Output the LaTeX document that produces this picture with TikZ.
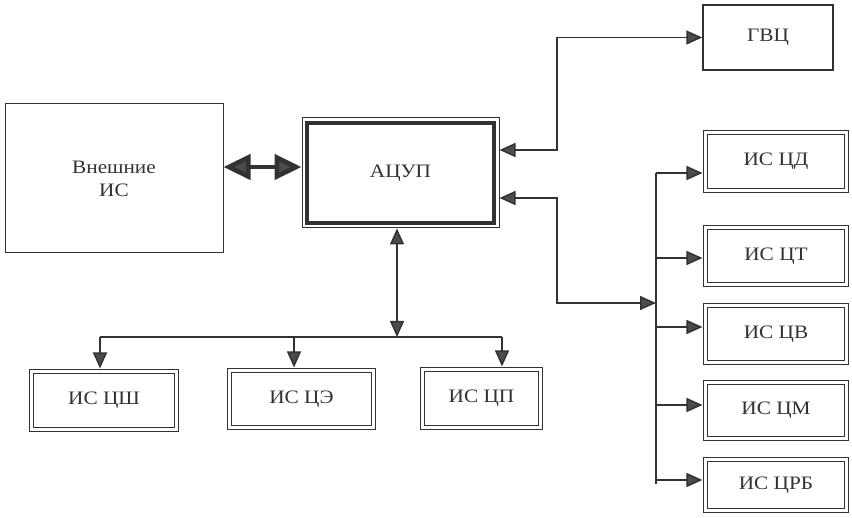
\documentclass[tikz,border=0pt]{standalone}
\usepackage{fontspec}
\setmainfont{Liberation Serif}[FakeStretch=1.12]
\usetikzlibrary{arrows.meta,calc}
\definecolor{ink}{RGB}{50,50,50}
\definecolor{tipc}{RGB}{75,75,75}
\begin{document}
\begin{tikzpicture}[x=1pt,y=-1pt,
  >={Triangle[length=16pt,width=14pt,fill=tipc]},
  every node/.style={font=\fontsize{19}{23}\selectfont, text=ink, inner sep=0pt},
  plainbox/.style={draw=ink, line width=1pt, rectangle},
  dblbox/.style={draw=ink, double=white, double distance=2.5pt, line width=1.2pt, rectangle},
  mainbox/.style={draw=ink, line width=1pt, rectangle,
    path picture={\draw[ink,line width=4pt]
      ([shift={(5pt,-5pt)}]path picture bounding box.north west) rectangle
      ([shift={(-5pt,5pt)}]path picture bounding box.south east);}},
  link/.style={draw=ink, line width=1.5pt},
  tobox/.style={link, ->, shorten >=2.3pt}
]
\fill[white] (0,0) rectangle (852,518);
\useasboundingbox (0,0) rectangle (852,518);

% nodes
\node[plainbox, minimum width=218pt, minimum height=149pt, align=center] (ext) at (114,178.5) {Внешние\\ИС};
\node[mainbox, minimum width=197pt, minimum height=110pt] (acup) at (400.5,173) {АЦУП};
\node[plainbox, line width=1.5pt, minimum width=130pt, minimum height=65pt] (gvc) at (768,37.5) {ГВЦ};

\node[dblbox, minimum width=141.3pt, minimum height=58.3pt] (icd) at (776,161.5) {ИС ЦД};
\node[dblbox, minimum width=141.3pt, minimum height=57.3pt] (ict) at (776,256) {ИС ЦТ};
\node[dblbox, minimum width=141.3pt, minimum height=57.3pt] (icv) at (776,334) {ИС ЦВ};
\node[dblbox, minimum width=141.3pt, minimum height=56.3pt] (icm) at (776,410.5) {ИС ЦМ};
\node[dblbox, minimum width=141.3pt, minimum height=51.3pt] (icrb) at (776,485) {ИС ЦРБ};

\node[dblbox, minimum width=145.3pt, minimum height=58.3pt] (ish) at (104,400.5) {ИС ЦШ};
\node[dblbox, minimum width=144.3pt, minimum height=57.3pt] (ice) at (301.5,399) {ИС ЦЭ};
\node[dblbox, minimum width=118.3pt, minimum height=58.3pt] (icp) at (481.5,398.5) {ИС ЦП};

% thick double arrow
\draw[draw=ink, line width=4.5pt,
  {Triangle[length=27pt,width=25pt,fill=tipc]}-{Triangle[length=27pt,width=25pt,fill=tipc]}]
  (ext.east |- 0,167) -- (acup.west |- 0,167);

% right side
\coordinate (j1) at (557,150);
\coordinate (j2) at (557,198);
\coordinate (bt) at (656,173);
\coordinate (bj) at (656,303);
\coordinate (r2) at (656,258);
\coordinate (r3) at (656,327);
\coordinate (r4) at (656,405);
\coordinate (r5) at (656,480);
\coordinate (bb) at (656,484);

\draw[link,<->] (j1 -| acup.east) -- (j1) |- (gvc.west);
\draw[link,<->] (j2 -| acup.east) -- (j2) |- (bj);
\draw[link] (bt) -- (bb);
\draw[tobox] (bt) -- (bt -| icd.west);
\draw[tobox] (r2) -- (r2 -| ict.west);
\draw[tobox] (r3) -- (r3 -| icv.west);
\draw[tobox] (r4) -- (r4 -| icm.west);
\draw[tobox] (r5) -- (r5 -| icrb.west);

% bottom
\coordinate (v) at (397,337);
\coordinate (d1) at (100,337);
\coordinate (d2) at (294,337);
\coordinate (d3) at (502,337);
\draw[link,<->] (v |- acup.south) -- (v);
\draw[link] (d1) -- (d3);
\draw[tobox] (d1) -- (d1 |- ish.north);
\draw[tobox] (d2) -- (d2 |- ice.north);
\draw[tobox] (d3) -- (d3 |- icp.north);
\end{tikzpicture}
\end{document}
